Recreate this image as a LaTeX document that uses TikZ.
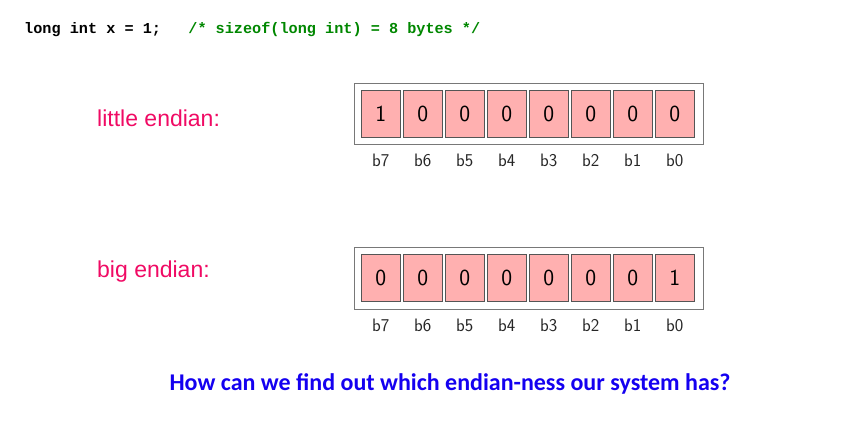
\documentclass[tikz,border=0pt]{standalone}
\usepackage{fontspec}
\setmainfont{Liberation Sans}
\setsansfont{Latin Modern Sans}
\newfontfamily\codefont{Liberation Mono}
\newfontfamily\qfont{Carlito}
\definecolor{pinktxt}{RGB}{240,10,100}
\definecolor{cellfill}{RGB}{255,176,176}
\definecolor{cellborder}{RGB}{85,85,85}
\definecolor{outerborder}{RGB}{120,120,120}
\definecolor{codegreen}{RGB}{0,135,0}
\definecolor{qblue}{RGB}{20,0,240}
\tikzset{
  cell/.style={draw=cellborder, fill=cellfill, line width=0.9pt, minimum width=39.5pt, minimum height=47pt, inner sep=0pt, font=\sffamily\fontsize{23}{27}\selectfont},
  outerbox/.style={draw=outerborder, fill=white, line width=0.9pt},
  bitlabel/.style={inner sep=0pt, font=\sffamily\fontsize{18}{21}\selectfont, text=black!85},
  endlabel/.style={anchor=west, inner sep=0pt, text=pinktxt, font=\fontsize{23}{27}\selectfont}
}
\begin{document}
\begin{tikzpicture}[x=1pt,y=-1pt]
\useasboundingbox (0,0) rectangle (842,424);
\node[anchor=west, inner sep=0pt, font=\codefont\bfseries\fontsize{15.2}{18}\selectfont] (code) at (24,29) {long int x = 1;\ \ \ {\color{codegreen}/* sizeof(long int) = 8 bytes */}};
\node[endlabel] (little) at (97,118) {little endian:};
\node[endlabel] (big) at (97,272) {big endian:};
\node[outerbox, minimum width=349pt, minimum height=61pt, anchor=north west] (lbox) at (354,83) {};
\node[outerbox, minimum width=349pt, minimum height=62pt, anchor=north west] (bbox) at (354,247) {};
\foreach \i/\lv/\bv in {7/1/0,6/0/0,5/0/0,4/0/0,3/0/0,2/0/0,1/0/0,0/0/1}{
  \pgfmathsetmacro{\cx}{380.75+42*(7-\i)}
  \node[cell] (l\i) at (\cx,113.5) {\lv};
  \node[bitlabel] (ll\i) at (\cx,160) {b\i};
  \node[cell] (b\i) at (\cx,278) {\bv};
  \node[bitlabel] (bl\i) at (\cx,325) {b\i};
}
\node[inner sep=0pt, text=qblue, font=\qfont\bfseries\fontsize{24}{28}\selectfont] (q) at (450,384) {How can we find out which endian-ness our system has?};
\end{tikzpicture}
\end{document}
